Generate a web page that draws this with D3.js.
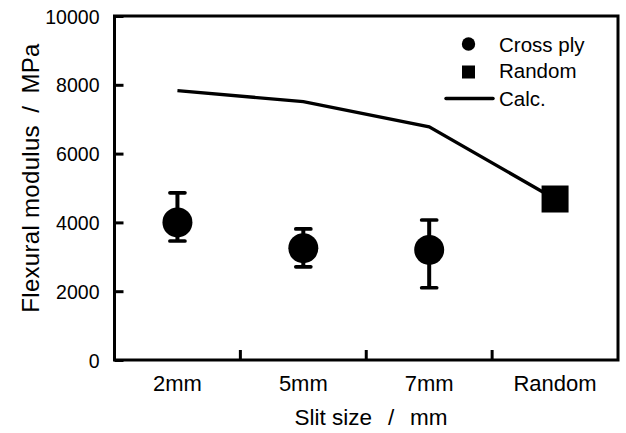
<!DOCTYPE html>
<html lang="en">
<head>
<meta charset="utf-8">
<title>Flexural modulus vs slit size</title>
<script src="https://d3js.org/d3.v7.min.js"></script>
<style type="text/css">
  body { margin: 0; background: #fff; }
  svg text { font-family: "Liberation Sans", Arial, sans-serif; fill: #000; }
</style>
</head>
<body>
<script type="text/javascript">
    // categories on the x axis
    var categories = ["2mm", "5mm", "7mm", "Random"];
    // cross ply measurements (mean, upper and lower error bar ends)
    var crossCats = ["2mm", "5mm", "7mm"];
    var crossMean = [4000, 3250, 3200];
    var crossHigh = [4860, 3810, 4070];
    var crossLow = [3460, 2710, 2100];
    // random mat measurement
    var randomCats = ["Random"];
    var randomMean = [4680];
    // calculated values
    var calcValues = [7830, 7510, 6780, 4680];
    var yTicks = [0, 2000, 4000, 6000, 8000, 10000];

    var w = 626, h = 433;
    // plot box (note: "top" is taken by window.top, so prefix the names)
    var plotL = 114.5, plotR = 618, plotT = 16, plotB = 360;

    var svg = d3.select("body").append("svg")
        .attr("width", w)
        .attr("height", h);

    var x = d3.scaleBand().domain(categories).range([plotL, plotR]);
    var y = d3.scaleLinear().domain([0, 10000]).range([plotB, plotT]);
    var cx = function(c) { return x(c) + x.bandwidth() / 2; };

    // y axis, ticks pointing inward
    var yAxis = svg.append("g")
        .attr("transform", "translate(" + plotL + ",0)")
        .call(d3.axisLeft(y).tickValues(yTicks).tickFormat(d3.format("d"))
            .tickSizeInner(-9).tickSizeOuter(0).tickPadding(15));
    yAxis.select(".domain").remove();
    yAxis.selectAll(".tick line").attr("stroke", "#000").attr("stroke-width", 3);
    yAxis.selectAll(".tick text")
        .style("font-size", "19.5px")
        .attr("dy", "0.36em");

    // x axis labels at band centres
    var xAxis = svg.append("g")
        .attr("transform", "translate(0," + plotB + ")")
        .call(d3.axisBottom(x).tickSize(0).tickPadding(15));
    xAxis.select(".domain").remove();
    xAxis.selectAll(".tick text").style("font-size", "22px");

    // x ticks between the bands, pointing inward
    svg.selectAll(".xsep")
        .data(categories.slice(1))
        .enter().append("line")
        .attr("class", "xsep")
        .attr("x1", function(d) { return x(d); })
        .attr("x2", function(d) { return x(d); })
        .attr("y1", plotB)
        .attr("y2", plotB - 10)
        .attr("stroke", "#000")
        .attr("stroke-width", 3);

    // frame
    svg.append("rect")
        .attr("x", plotL)
        .attr("y", plotT)
        .attr("width", plotR - plotL)
        .attr("height", plotB - plotT)
        .attr("fill", "none")
        .attr("stroke", "#000")
        .attr("stroke-width", 3);

    // axis titles (wide spaces around the slash, like the original)
    svg.append("text")
        .attr("transform", "translate(38.5,178) rotate(-90)")
        .attr("text-anchor", "middle")
        .style("font-size", "24px")
        .style("letter-spacing", "0.3px")
        .text("Flexural modulus\u2002/\u2002MPa");

    svg.append("text")
        .attr("x", 371)
        .attr("y", 425)
        .attr("text-anchor", "middle")
        .style("font-size", "22.5px")
        .text("Slit size\u2002\u2009/\u2002\u2009mm");

    // calc line
    var line = d3.line()
        .x(function(d, i) { return cx(categories[i]); })
        .y(function(d) { return y(d); });
    svg.append("path")
        .datum(calcValues)
        .attr("d", line)
        .attr("fill", "none")
        .attr("stroke", "#000")
        .attr("stroke-width", 3.3);

    // error bars
    var err = svg.append("g").attr("stroke", "#000");
    crossCats.forEach(function(c, i) {
        err.append("line")
            .attr("x1", cx(c)).attr("x2", cx(c))
            .attr("y1", y(crossHigh[i])).attr("y2", y(crossLow[i]))
            .attr("stroke-width", 4);
        [crossHigh[i], crossLow[i]].forEach(function(v) {
            err.append("line")
                .attr("x1", cx(c) - 7.5).attr("x2", cx(c) + 7.5)
                .attr("y1", y(v)).attr("y2", y(v))
                .attr("stroke-width", 3.7)
                .attr("stroke-linecap", "round");
        });
    });

    // cross ply markers
    svg.selectAll(".cross")
        .data(crossMean)
        .enter().append("circle")
        .attr("class", "cross")
        .attr("cx", function(d, i) { return cx(crossCats[i]); })
        .attr("cy", function(d) { return y(d); })
        .attr("r", 15)
        .attr("fill", "#000");

    // random marker
    svg.selectAll(".rand")
        .data(randomMean)
        .enter().append("rect")
        .attr("class", "rand")
        .attr("x", function(d, i) { return cx(randomCats[i]) - 13.5; })
        .attr("y", function(d) { return y(d) - 13.5; })
        .attr("width", 27)
        .attr("height", 27)
        .attr("fill", "#000");

    // legend
    var lg = svg.append("g");
    lg.append("circle").attr("cx", 468.5).attr("cy", 44).attr("r", 6.7).attr("fill", "#000");
    lg.append("rect").attr("x", 462).attr("y", 65.5).attr("width", 13).attr("height", 13).attr("fill", "#000");
    lg.append("line").attr("x1", 446).attr("x2", 493).attr("y1", 98.5).attr("y2", 98.5)
        .attr("stroke", "#000").attr("stroke-width", 3.5).attr("stroke-linecap", "round");
    var legendLabels = ["Cross ply", "Random", "Calc."];
    var legendBase = [51.5, 78, 106];
    lg.selectAll("text")
        .data(legendLabels)
        .enter().append("text")
        .attr("x", 499)
        .attr("y", function(d, i) { return legendBase[i]; })
        .style("font-size", "20.5px")
        .text(function(d) { return d; });
</script>
</body>
</html>
